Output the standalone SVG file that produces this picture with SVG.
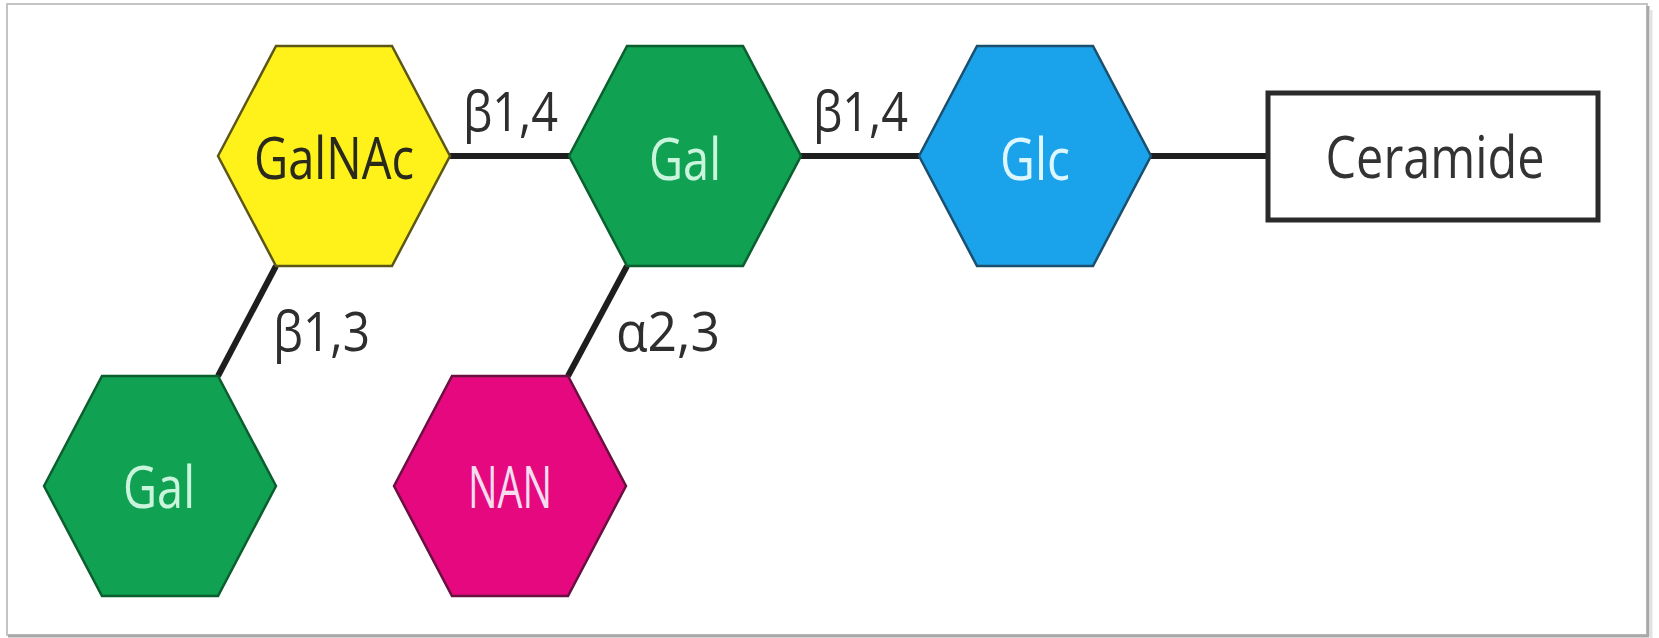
<svg xmlns="http://www.w3.org/2000/svg" xmlns:xlink="http://www.w3.org/1999/xlink" width="1659" height="638" viewBox="0 0 1659 638">
  <style>
    .hex { stroke-width: 2.5; stroke-linejoin: miter; }
    .yellow { fill: #FFF21A; stroke: #5C5716; }
    .green { fill: #11A153; stroke: #0B5E2E; }
    .blue { fill: #1AA3EA; stroke: #1A4F6E; }
    .magenta { fill: #E5087F; stroke: #6A1040; }
    .node-text { font-family: "Open Sans", "Noto Sans", sans-serif; font-size: 58px; text-anchor: middle; }
    .dark { fill: #2A2A1C; }
    .mint { fill: #C9F5DC; }
    .ice { fill: #DDF6FF; }
    .pink { fill: #F7DCF0; }
    .link { stroke: #1E1E1E; stroke-width: 6; fill: none; stroke-linecap: butt; }
    .label { font-family: "Open Sans", "Noto Sans", sans-serif; font-size: 54px; fill: #2E2E2E; }
  </style>
  <defs>
    <polygon id="hexshape" points="-116,0 -58,-110 58,-110 116,0 58,110 -58,110"/>
  </defs>

  <g id="frame">
    <rect x="0" y="0" width="1659" height="638" fill="#FFFFFF"/>
    <rect x="7" y="4" width="1640" height="631" fill="#FFFFFF" stroke="#C4C4C4" stroke-width="2"/>
    <line x1="1648" y1="6" x2="1648" y2="636" stroke="#A9A9A9" stroke-width="3"/>
    <line x1="8" y1="636" x2="1649" y2="636" stroke="#A9A9A9" stroke-width="3"/>
    <line x1="1651" y1="10" x2="1651" y2="638" stroke="#E2E2E2" stroke-width="3"/>
  </g>

  <g id="connectors">
    <line class="link" x1="450" y1="156" x2="569" y2="156"/>
    <line class="link" x1="801" y1="156" x2="919" y2="156"/>
    <line class="link" x1="1151" y1="156" x2="1268" y2="156"/>
    <line class="link" x1="276" y1="266" x2="218" y2="376"/>
    <line class="link" x1="627" y1="266" x2="568" y2="376"/>
    <text class="label" x="463" y="131" textLength="95" lengthAdjust="spacingAndGlyphs">β1,4</text>
    <text class="label" x="813" y="131" textLength="95" lengthAdjust="spacingAndGlyphs">β1,4</text>
    <text class="label" x="273" y="351" textLength="97" lengthAdjust="spacingAndGlyphs">β1,3</text>
    <text class="label" x="616" y="351" textLength="104" lengthAdjust="spacingAndGlyphs">α2,3</text>
  </g>

  <g id="node-galnac">
    <use xlink:href="#hexshape" href="#hexshape" x="334" y="156" class="hex yellow"/>
    <text class="node-text dark" x="334" y="179" textLength="160" lengthAdjust="spacingAndGlyphs">GalNAc</text>
  </g>

  <g id="node-gal-top">
    <use xlink:href="#hexshape" href="#hexshape" x="685" y="156" class="hex green"/>
    <text class="node-text mint" x="685" y="180" textLength="72" lengthAdjust="spacingAndGlyphs">Gal</text>
  </g>

  <g id="node-glc">
    <use xlink:href="#hexshape" href="#hexshape" x="1035" y="156" class="hex blue"/>
    <text class="node-text ice" x="1035" y="180" textLength="70" lengthAdjust="spacingAndGlyphs">Glc</text>
  </g>

  <g id="node-ceramide">
    <rect x="1268" y="93" width="330" height="127" fill="#FFFFFF" stroke="#2A2A2A" stroke-width="5"/>
    <text class="node-text" x="1435" y="178" textLength="219" lengthAdjust="spacingAndGlyphs" style="fill:#333333">Ceramide</text>
  </g>

  <g id="node-gal-bottom">
    <use xlink:href="#hexshape" href="#hexshape" x="160" y="486" class="hex green"/>
    <text class="node-text mint" x="159" y="508" textLength="72" lengthAdjust="spacingAndGlyphs">Gal</text>
  </g>

  <g id="node-nan">
    <use xlink:href="#hexshape" href="#hexshape" x="510" y="486" class="hex magenta"/>
    <text class="node-text pink" x="510" y="508" textLength="84" lengthAdjust="spacingAndGlyphs">NAN</text>
  </g>
</svg>
